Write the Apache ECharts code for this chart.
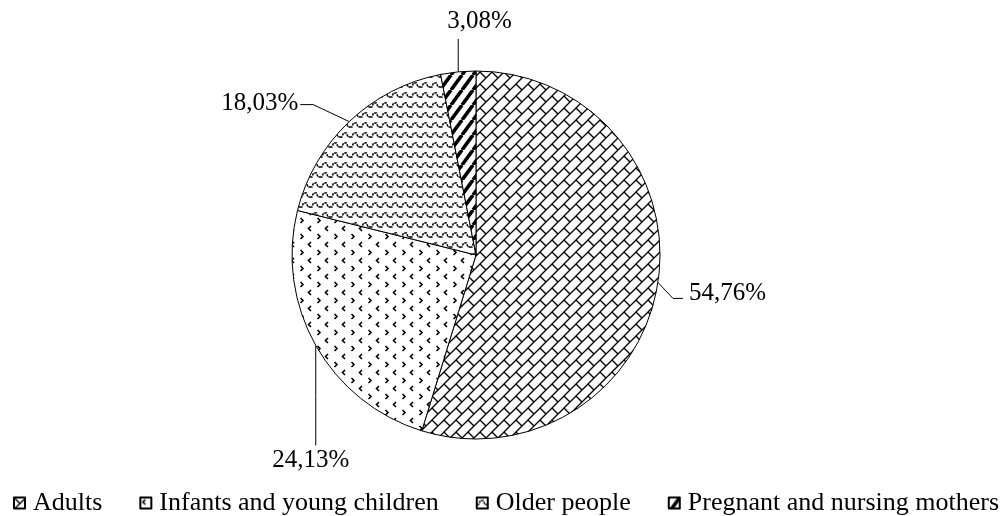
<!DOCTYPE html>
<html><head><meta charset="utf-8">
<script src="https://cdn.jsdelivr.net/npm/echarts@6/dist/echarts.min.js"></script>
<style>html,body{margin:0;padding:0;background:#fff}#c{width:1004px;height:516px}</style>
</head><body><div id="c"></div>
<script>
// ---- data ----
const categories = ['Adults', 'Infants and young children', 'Older people', 'Pregnant and nursing mothers'];
const values = [54.76, 24.13, 18.03, 3.08];

// ---- layout constants ----
const CX = 476, CY = 255, R = 184;
const FONT = '"Liberation Serif", "Times New Roman", serif';

// leader line shape relative to slice edge point (px offsets)
const leaders = [
  { pts: [[15, 16], [25, 16]], dx: 31, dy: 11, align: 'left' },
  { pts: [[0, 50], [0, 100]], dx: -5, dy: 115, align: 'center' },
  { pts: [[-36, -17], [-49, -17]], dx: -51, dy: -18, align: 'right' },
  { pts: [[0, -16], [0, -33]], dx: -11, dy: -50, align: 'left' }
];

function tile(w, h, draw) {
  const c = document.createElement('canvas');
  c.width = w; c.height = h;
  const g = c.getContext('2d');
  g.fillStyle = '#fff'; g.fillRect(0, 0, w, h);
  g.strokeStyle = '#000'; g.fillStyle = '#000';
  draw(g, w, h);
  return { image: c, repeat: 'repeat' };
}
function line(g, pts) {
  g.beginPath(); g.moveTo(pts[0][0], pts[0][1]);
  for (let i = 1; i < pts.length; i++) g.lineTo(pts[i][0], pts[i][1]);
  g.stroke();
}

// Adults: diagonal brick
const pAdults = tile(12, 12, (g, w) => {
  g.lineWidth = 1.3;
  line(g, [[-1, w + 1], [w + 1, -1]]);
  line(g, [[-1, 1], [1, -1]]);
  line(g, [[w - 1, w + 1], [w + 1, w - 1]]);
  line(g, [[-0.5, -0.5], [w / 2, w / 2]]);
});
// Infants: dotted chevrons
const pInfants = tile(17, 16, (g) => {
  g.lineWidth = 1.6;
  line(g, [[5, 2], [2.5, 4.5], [5, 7]]);
  line(g, [[11.5, 10], [14, 12.5], [11.5, 15]]);
});
// Older: waves
const pOlder = tile(10, 10, (g) => {
  g.lineWidth = 1.5;
  g.setLineDash([2.5, 1]);
  line(g, [[0, 7], [2, 7], [3.5, 3], [6.5, 3], [8, 7], [10, 7]]);
});
// Pregnant: thick diagonal stripes
const pPreg = tile(11, 15, (g, w, h) => {
  g.lineWidth = 3.6;
  [-w, 0, w].forEach(dx => line(g, [[dx, h], [dx + w, 0]]));
  line(g, [[w, 2 * h], [2 * w, h]]);
  line(g, [[-w, 0], [0, -h]]);
});
const patterns = [pAdults, pInfants, pOlder, pPreg];

const total = values.reduce((a, b) => a + b, 0);
function edgePoint(i) {
  let cum = 0;
  for (let k = 0; k < i; k++) cum += values[k];
  const a = (cum + values[i] / 2) / total * Math.PI * 2;
  return [CX + R * Math.sin(a), CY - R * Math.cos(a)];
}

const chart = echarts.init(document.getElementById('c'), null, { renderer: 'canvas' });
chart.setOption({
  backgroundColor: '#fff',
  animation: false,
  legend: {
    left: 13, top: 490, padding: 0, width: 995,
    icon: 'rect', itemWidth: 11, itemHeight: 11, itemGap: 37,
    textStyle: { fontFamily: FONT, fontSize: 26, color: '#000', padding: [0, 0, 0, 3] },
    data: categories
  },
  series: [{
    type: 'pie',
    center: [CX, CY],
    radius: R,
    startAngle: 90,
    clockwise: true,
    avoidLabelOverlap: false,
    itemStyle: { borderColor: '#000', borderWidth: 1 },
    label: {
      show: true, position: 'outside',
      fontFamily: FONT, fontSize: 25, color: '#000',
      formatter: p => p.value.toFixed(2).replace('.', ',') + '%'
    },
    labelLine: { show: true, length: 10, length2: 10, lineStyle: { color: '#000', width: 1 } },
    labelLayout: function (params) {
      const i = params.dataIndex;
      const e = edgePoint(i);
      const L = leaders[i];
      return {
        x: e[0] + L.dx, y: e[1] + L.dy,
        align: L.align, verticalAlign: 'middle',
        labelLinePoints: [e, [e[0] + L.pts[0][0], e[1] + L.pts[0][1]], [e[0] + L.pts[1][0], e[1] + L.pts[1][1]]]
      };
    },
    emphasis: { disabled: true },
    data: categories.map((n, i) => ({ name: n, value: values[i], itemStyle: { color: patterns[i] } }))
  }]
});
</script></body></html>
